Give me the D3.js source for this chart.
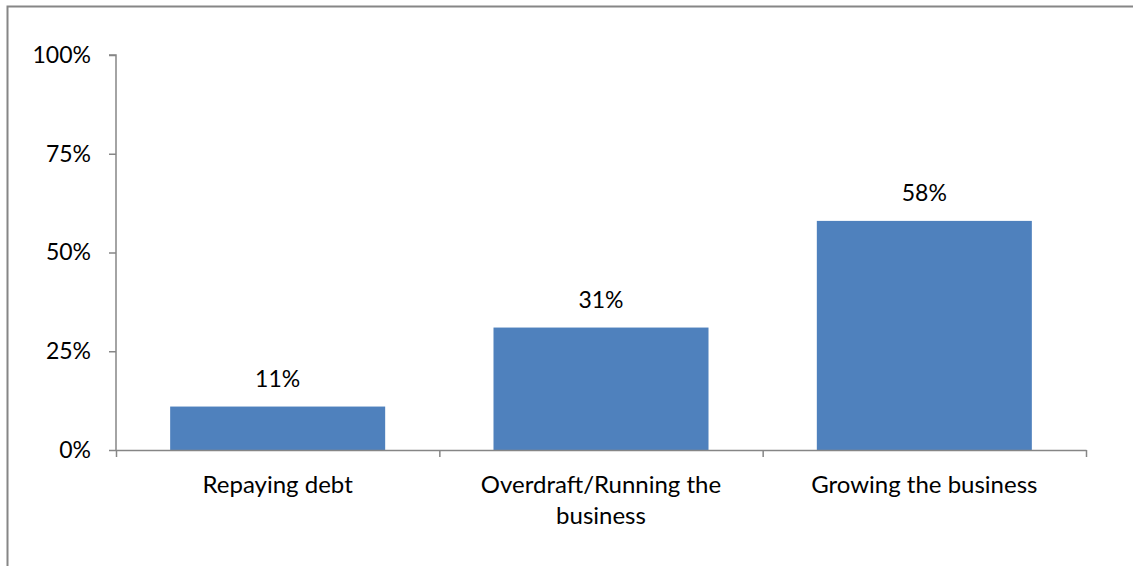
<!DOCTYPE html>
<html>
<head>
<meta charset="utf-8">
<script src="https://cdn.jsdelivr.net/npm/d3@7"></script>
<style>
  html, body { margin: 0; padding: 0; background: #fff; }
  svg { display: block; font-family: Lato, "Open Sans", sans-serif; }
</style>
</head>
<body>
<svg id="chart" width="1133" height="566"></svg>
<script>
// Share of respondents by use of finance
const categories = [["Repaying debt"], ["Overdraft/Running the", "business"], ["Growing the business"]];
const values = [11, 31, 58];
const tickValues = [0, 25, 50, 75, 100];
const tickLabels = ["0%", "25%", "50%", "75%", "100%"];

const svg = d3.select("#chart");
const W = 1133, H = 566;
const margin = { left: 116, right: 47, top: 55, bottom: 116 };
const axisColor = "#868686";
const barColor = "#4F81BD";
const numSize = 23;
const catSize = 24;

// outer frame
svg.append("path")
  .attr("d", `M7.5,${H + 2} V6.5 H${W + 2}`)
  .attr("fill", "none").attr("stroke", axisColor).attr("stroke-width", 2);

const x = d3.scaleBand()
  .domain(d3.range(categories.length))
  .range([margin.left, W - margin.right])
  .paddingInner(0.335).paddingOuter(0.1675);

const y = d3.scaleLinear().domain([0, 100]).range([H - margin.bottom, margin.top]);

// bars
svg.append("g").selectAll("rect")
  .data(values)
  .join("rect")
  .attr("x", (d, i) => x(i))
  .attr("width", x.bandwidth())
  .attr("y", d => y(d))
  .attr("height", d => y(0) - y(d))
  .attr("fill", barColor);

// value labels
svg.append("g").selectAll("text")
  .data(values)
  .join("text")
  .attr("x", (d, i) => x(i) + x.bandwidth() / 2)
  .attr("y", d => y(d) - 20)
  .attr("text-anchor", "middle")
  .attr("font-size", numSize)
  .attr("fill", "#000")
  .text(d => d + "%");

// y axis
const yAxis = d3.axisLeft(y)
  .tickValues(tickValues)
  .tickFormat((d, i) => tickLabels[i])
  .tickSize(7).tickPadding(18);
const gy = svg.append("g").attr("transform", `translate(${margin.left},0)`).call(yAxis);
gy.select(".domain").attr("stroke", axisColor).attr("stroke-width", 1.5)
  .attr("d", `M-7,${y(100)}H0V${y(0)}`);
gy.selectAll(".tick line").attr("stroke", axisColor).attr("stroke-width", 1.5);
gy.selectAll(".tick text").attr("font-size", numSize).attr("fill", "#000")
  .attr("font-family", "Lato, sans-serif");

// x axis with category boundaries as ticks
const xb = d3.scaleLinear().domain([0, categories.length]).range([margin.left, W - margin.right]);
const xAxis = d3.axisBottom(xb).tickValues(d3.range(categories.length + 1))
  .tickFormat("").tickSize(7).tickSizeOuter(0);
const gx = svg.append("g").attr("transform", `translate(0,${y(0)})`).call(xAxis);
gx.select(".domain").attr("stroke", axisColor).attr("stroke-width", 1.5);
gx.selectAll(".tick line").attr("stroke", axisColor).attr("stroke-width", 1.5);

// category labels
const cat = svg.append("g").selectAll("text")
  .data(categories)
  .join("text")
  .attr("x", (d, i) => x(i) + x.bandwidth() / 2)
  .attr("y", y(0) + 43)
  .attr("text-anchor", "middle")
  .attr("font-size", catSize)
  .attr("fill", "#000");
cat.selectAll("tspan")
  .data(d => d)
  .join("tspan")
  .attr("x", function () { return this.parentNode.getAttribute("x"); })
  .attr("dy", (d, j) => j === 0 ? 0 : 31)
  .text(d => d);
</script>
</body>
</html>
